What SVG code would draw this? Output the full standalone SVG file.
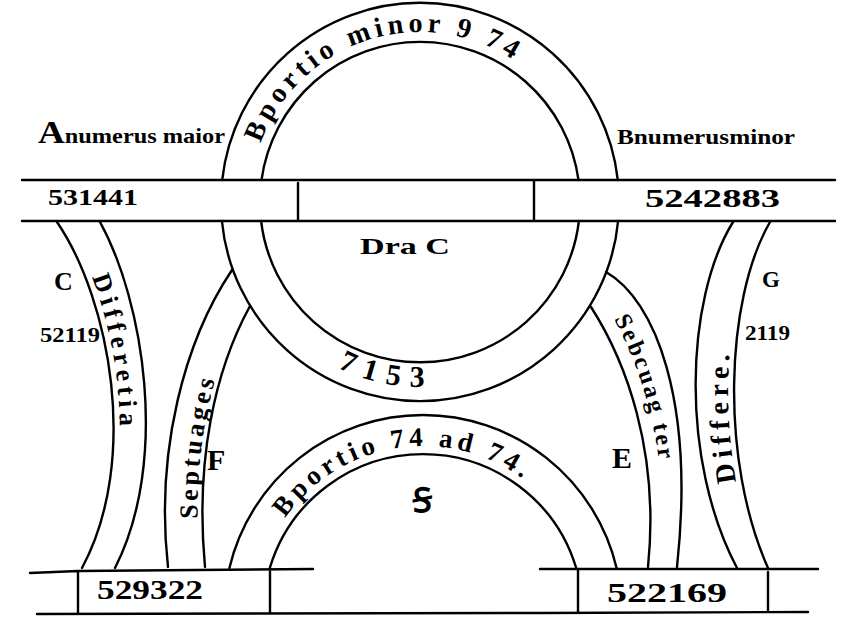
<svg xmlns="http://www.w3.org/2000/svg" width="851" height="642" viewBox="0 0 851 642">
<style>
.ln{fill:none;stroke:#000;stroke-width:2.4;stroke-linecap:round;stroke-linejoin:round}
.t{font-family:"Liberation Serif","DejaVu Serif",serif;font-weight:bold;fill:#000}
</style>
<defs>
<path id="p-top" d="M250 202 A170 170 0 0 1 590 202"/>
<path id="p-7153" d="M235 202 A185 185 0 0 0 605 202"/>
<path id="p-low" d="M255 614 A168 168 0 0 1 591 614"/>
<path id="p-diff-l" d="M64 222 C116 300 146 460 88 568"/>
<path id="p-sept" d="M200 567 C190 460 210 370 245 306"/>
<path id="p-sebc" d="M603 300 C640 360 672 450 660 567"/>
<path id="p-diff-r" d="M762 568 C714 460 719 300 764 222"/>
</defs>
<rect width="851" height="642" fill="#fff"/>

<g id="bar-top">
<path class="ln" d="M22 180 H835 M22 221 H835 M298 183 V221 M534 180 V221"/>
<text class="t" x="48" y="205" font-size="24" textLength="90" lengthAdjust="spacingAndGlyphs">531441</text>
<text class="t" x="645" y="207" font-size="25" textLength="135" lengthAdjust="spacingAndGlyphs">5242883</text>
</g>

<g id="ring-upper">
<path class="ln" d="M222.2 180 A199 199 0 0 1 617.8 180 M261.5 180 A160 160 0 0 1 578.5 180"/>
<path class="ln" d="M618.1 221 A199 199 0 0 1 221.9 221 M578.9 221 A160 160 0 0 1 261.1 221"/>
<text class="t" font-size="28"><textPath href="#p-top" startOffset="60" textLength="305" lengthAdjust="spacing">Bportio minor 9 74</textPath></text>
<text class="t" font-size="30"><textPath href="#p-7153" startOffset="250" text-anchor="middle" textLength="90" lengthAdjust="spacing">7153</textPath></text>
<text class="t" x="360" y="254" font-size="24" textLength="90" lengthAdjust="spacingAndGlyphs">Dra C</text>
</g>

<g id="arch-lower">
<path class="ln" d="M229.4 568 A199 199 0 0 1 616.6 568 M269.8 568 A160 160 0 0 1 576.2 568"/>
<text class="t" font-size="27"><textPath href="#p-low" startOffset="102" textLength="268" lengthAdjust="spacing">Bportio 74 ad 74.</textPath></text>
<text class="t" x="422" y="512" font-size="34" text-anchor="middle">Ꞩ</text>
</g>

<g id="bar-bottom">
<path class="ln" d="M30 573 L78 571 L313 569 M540 569 H818 M78 571 V613 M270 569 V612 M578 569 V613 M768 572 V611 M37 614 L540 613 L808 612"/>
<text class="t" x="97" y="599" font-size="27" textLength="106" lengthAdjust="spacingAndGlyphs">529322</text>
<text class="t" x="607" y="602" font-size="27" textLength="120" lengthAdjust="spacingAndGlyphs">522169</text>
</g>

<g id="connectors">
<path class="ln" d="M57 222 C110 300 140 460 82 568"/>
<path class="ln" d="M100 222 C143 300 170 460 115 568"/>
<path class="ln" d="M232 270 C185 340 155 450 168 567"/>
<path class="ln" d="M250 306 C215 370 195 460 205 567"/>
<path class="ln" d="M606 272 C655 300 695 400 677 567"/>
<path class="ln" d="M591 307 C625 360 660 450 648 567"/>
<path class="ln" d="M733 222 C685 300 680 460 737 568"/>
<path class="ln" d="M770 222 C725 300 720 460 768 568"/>
<text class="t" font-size="26"><textPath href="#p-diff-l" startOffset="62" textLength="152" lengthAdjust="spacing">Differetia</textPath></text>
<text class="t" font-size="26"><textPath href="#p-sept" startOffset="48" textLength="140" lengthAdjust="spacing">Septuages</textPath></text>
<text class="t" font-size="24"><textPath href="#p-sebc" startOffset="22" textLength="148" lengthAdjust="spacing">Sebcuag ter</textPath></text>
<text class="t" font-size="28"><textPath href="#p-diff-r" startOffset="90" textLength="128" lengthAdjust="spacing">Differe.</textPath></text>
</g>

<g id="labels">
<text class="t" x="38" y="143" textLength="187" lengthAdjust="spacingAndGlyphs"><tspan font-size="32">A</tspan><tspan font-size="21">numerus maior</tspan></text>
<text class="t" x="617" y="144" font-size="22" textLength="178" lengthAdjust="spacingAndGlyphs">Bnumerusminor</text>
<text class="t" x="54" y="290" font-size="26">C</text>
<text class="t" x="40" y="342" font-size="22" textLength="60" lengthAdjust="spacingAndGlyphs">52119</text>
<text class="t" x="207" y="470" font-size="30">F</text>
<text class="t" x="612" y="468" font-size="30">E</text>
<text class="t" x="762" y="287" font-size="23">G</text>
<text class="t" x="745" y="340" font-size="22" textLength="45" lengthAdjust="spacingAndGlyphs">2119</text>
</g>
</svg>
